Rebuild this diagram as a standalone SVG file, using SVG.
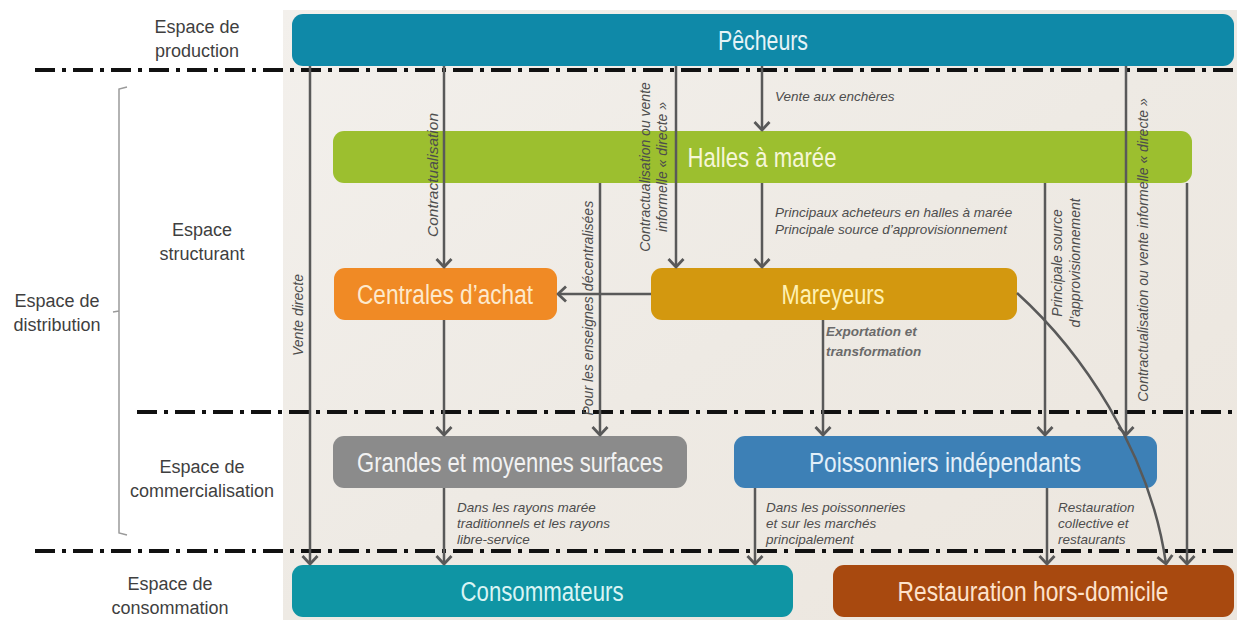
<svg xmlns="http://www.w3.org/2000/svg" width="1237" height="620" viewBox="0 0 1237 620">
<defs>
<style>
.lbl{font-family:"Liberation Sans",Arial,sans-serif;font-size:18px;fill:#3f3f3f;text-anchor:middle}
.nt{font-family:"Liberation Sans",Arial,sans-serif;font-size:27px;text-anchor:middle}
.cl{font-family:"Liberation Sans",Arial,sans-serif;font-size:13.5px;font-style:italic;fill:#4d4d4d}
.rl{font-family:"Liberation Sans",Arial,sans-serif;font-size:14px;font-style:italic;fill:#4d4d4d;text-anchor:middle}
.sep{stroke:#111;stroke-width:4;stroke-dasharray:20 7 4 7;fill:none}
.cn{stroke:#595959;stroke-width:2.5;fill:none;marker-end:url(#arr)}
</style>
<marker id="arr" viewBox="-2 -2 12 19" refX="8" refY="7.5" markerWidth="12" markerHeight="19" markerUnits="userSpaceOnUse" orient="auto">
<path d="M0,0 L8,7.5 L0,15" fill="none" stroke="#595959" stroke-width="2.8" stroke-linejoin="round"/>
</marker>
<linearGradient id="bg" x1="0" y1="0" x2="1" y2="1">
<stop offset="0" stop-color="#f3f0ec"/>
<stop offset="0.5" stop-color="#eeeae4"/>
<stop offset="1" stop-color="#ece6de"/>
</linearGradient>
</defs>
<rect x="0" y="0" width="1237" height="620" fill="#ffffff"/>
<rect x="283" y="10" width="954" height="610" fill="url(#bg)"/>

<g id="side-labels">
<text class="lbl" x="197" y="33">Espace de</text>
<text class="lbl" x="197" y="57">production</text>
<text class="lbl" x="202" y="236">Espace</text>
<text class="lbl" x="202" y="260">structurant</text>
<text class="lbl" x="57" y="307">Espace de</text>
<text class="lbl" x="57" y="331">distribution</text>
<text class="lbl" x="202" y="473">Espace de</text>
<text class="lbl" x="202" y="497">commercialisation</text>
<text class="lbl" x="170" y="590">Espace de</text>
<text class="lbl" x="170" y="614">consommation</text>
<path d="M127,87 L119,89 L119,533 L127,535 M119,311 L113,312" fill="none" stroke="#9a9a9a" stroke-width="1.5"/>
</g>

<g id="separators">
<line class="sep" x1="35" y1="70" x2="1237" y2="70"/>
<line class="sep" x1="137" y1="412" x2="1237" y2="412"/>
<line class="sep" x1="35" y1="551" x2="1237" y2="551"/>
</g>

<g id="pecheurs"><rect x="292" y="14" width="942" height="52" rx="11" fill="#0f89a8"/><text class="nt" x="763" y="50" fill="#e6f3f7" textLength="90" lengthAdjust="spacingAndGlyphs">Pêcheurs</text></g>
<g id="halles"><rect x="333" y="131" width="859" height="52" rx="11" fill="#9cbf2f"/><text class="nt" x="762" y="167" fill="#f6f6d8" textLength="149" lengthAdjust="spacingAndGlyphs">Halles à marée</text></g>
<g id="centrales"><rect x="334" y="268" width="223" height="52" rx="11" fill="#f08a25"/><text class="nt" x="445" y="304" fill="#fde9cc" textLength="176" lengthAdjust="spacingAndGlyphs">Centrales d’achat</text></g>
<g id="mareyeurs"><rect x="651" y="268" width="366" height="52" rx="11" fill="#d3980f"/><text class="nt" x="833" y="304" fill="#fff1b3" textLength="103" lengthAdjust="spacingAndGlyphs">Mareyeurs</text></g>
<g id="gms"><rect x="333" y="436" width="354" height="52" rx="11" fill="#8b8b8b"/><text class="nt" x="510" y="472" fill="#f2f2f2" textLength="306" lengthAdjust="spacingAndGlyphs">Grandes et moyennes surfaces</text></g>
<g id="poissonniers"><rect x="734" y="436" width="423" height="52" rx="11" fill="#3d80b6"/><text class="nt" x="945" y="472" fill="#e2eff9" textLength="272" lengthAdjust="spacingAndGlyphs">Poissonniers indépendants</text></g>
<g id="consommateurs"><rect x="292" y="565" width="501" height="52" rx="11" fill="#0f95a4"/><text class="nt" x="542" y="601" fill="#d9f4f4" textLength="163" lengthAdjust="spacingAndGlyphs">Consommateurs</text></g>
<g id="restauration"><rect x="833" y="565" width="401" height="52" rx="11" fill="#a8490f"/><text class="nt" x="1033" y="601" fill="#fde2cc" textLength="271" lengthAdjust="spacingAndGlyphs">Restauration hors-domicile</text></g>

<g id="connectors">
<line class="cn" x1="310" y1="66" x2="310" y2="564"/>
<line class="cn" x1="444" y1="66" x2="444" y2="267"/>
<line class="cn" x1="676" y1="66" x2="676" y2="267"/>
<line class="cn" x1="762" y1="66" x2="762" y2="130"/>
<line class="cn" x1="600" y1="183" x2="600" y2="435"/>
<line class="cn" x1="651" y1="294" x2="558" y2="294"/>
<line class="cn" x1="762" y1="183" x2="762" y2="267"/>
<line class="cn" x1="444" y1="320" x2="444" y2="435"/>
<line class="cn" x1="823" y1="320" x2="823" y2="435"/>
<line class="cn" x1="1045" y1="183" x2="1045" y2="435"/>
<line class="cn" x1="1126" y1="66" x2="1126" y2="435"/>
<line class="cn" x1="1187" y1="183" x2="1187" y2="564"/>
<path class="cn" d="M1017,293 C1080,350 1150,450 1166,564"/>
<line class="cn" x1="444" y1="488" x2="444" y2="564"/>
<line class="cn" x1="755" y1="488" x2="755" y2="564"/>
<line class="cn" x1="1047" y1="488" x2="1047" y2="564"/>

<text class="rl" transform="translate(303,315) rotate(-90)">Vente directe</text>
<text class="rl" transform="translate(438,175) rotate(-90)" style="font-size:15.5px">Contractualisation</text>
<text class="rl" transform="translate(650,167) rotate(-90)">Contractualisation ou vente</text>
<text class="rl" transform="translate(667,167) rotate(-90)">informelle « directe »</text>
<text class="rl" transform="translate(593,356) rotate(-90)">Pour les enseignes<tspan x="110" y="0">décentralisées</tspan></text>
<text class="rl" transform="translate(1062,263) rotate(-90)">Principale source</text>
<text class="rl" transform="translate(1080,263) rotate(-90)">d’approvisionnement</text>
<text class="rl" transform="translate(1148,250) rotate(-90)">Contractualisation ou vente informelle « directe »</text>

<text class="cl" x="775" y="101">Vente aux enchères</text>
<text class="cl" x="775" y="217">Principaux acheteurs en halles à marée</text>
<text class="cl" x="775" y="234">Principale source d’approvisionnement</text>
<text class="cl" x="826" y="336" style="font-weight:bold;fill:#6a6a6a">Exportation et</text>
<text class="cl" x="826" y="356" style="font-weight:bold;fill:#6a6a6a">transformation</text>
<text class="cl" x="457" y="512">Dans les rayons marée</text>
<text class="cl" x="457" y="528">traditionnels et les rayons</text>
<text class="cl" x="457" y="544">libre-service</text>
<text class="cl" x="766" y="512">Dans les poissonneries</text>
<text class="cl" x="766" y="528">et sur les marchés</text>
<text class="cl" x="766" y="544">principalement</text>
<text class="cl" x="1058" y="512">Restauration</text>
<text class="cl" x="1058" y="528">collective et</text>
<text class="cl" x="1058" y="544">restaurants</text>
</g>
</svg>
